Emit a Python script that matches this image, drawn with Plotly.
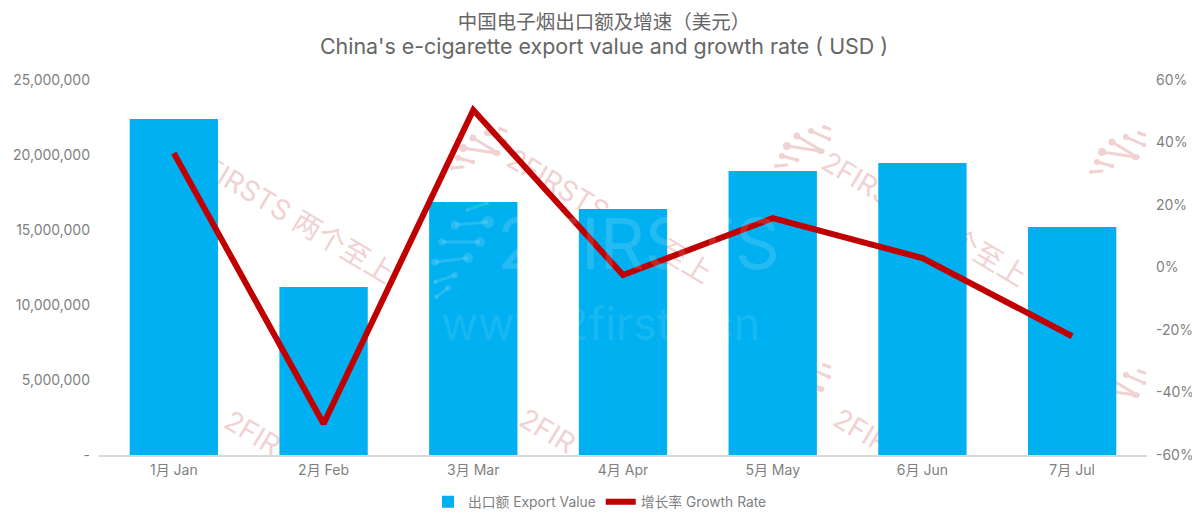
import plotly.graph_objects as go

categories = ["1月 Jan", "2月 Feb", "3月 Mar", "4月 Apr", "5月 May", "6月 Jun", "7月 Jul"]
export_value = [22400000, 11200000, 16870000, 16400000, 18930000, 19470000, 15200000]
growth_rate = [36.6, -50.0, 50.4, -2.4, 15.8, 3.0, -22.0]
left_ticks = [0, 5000000, 10000000, 15000000, 20000000, 25000000]
left_labels = ["-", "5,000,000", "10,000,000", "15,000,000", "20,000,000", "25,000,000"]
right_ticks = [-60, -40, -20, 0, 20, 40, 60]
right_labels = ["-60%", "-40%", "-20%", "0%", "20%", "40%", "60%"]
title_cn = "中国电子烟出口额及增速（美元）"
title_en = "China's e-cigarette export value and growth rate ( USD )"
watermark_text = "2FIRSTS 两个至上"
watermark_short = "2FIR"

FONT = "Inter, 'Noto Sans CJK SC', sans-serif"
PAGE = 8            # the page's own margin
L, T, PW, PH = 99, 80, 1048, 375   # plot box in picture pixels
W, H = 1200 - PAGE, 524 - PAGE
PINK = "#F0D2D2"


def px(x):
    return (x - L) / PW


def py(y):
    return (T + PH - y) / PH


shapes = []


def watermark(cx, cy, text, size=28):
    shapes.append(dict(type="rect", xref="paper", yref="paper", layer="below",
                       x0=px(cx - 130), x1=px(cx + 130), y0=py(cy + 20), y1=py(cy - 20),
                       line=dict(width=0), fillcolor="rgba(0,0,0,0)",
                       label=dict(text=text, textangle=31, textposition="middle center",
                                  font=dict(family=FONT, size=size, color=PINK))))


def dot(x, y, r, color, layer):
    shapes.append(dict(type="circle", xref="paper", yref="paper", layer=layer,
                       x0=px(x - r), x1=px(x + r), y0=py(y + r), y1=py(y - r),
                       fillcolor=color, line=dict(width=0)))


def lollipop(x0, y0, x1, y1, r, color, layer):
    shapes.append(dict(type="line", xref="paper", yref="paper", layer=layer,
                       x0=px(x0), y0=py(y0), x1=px(x1), y1=py(y1), line=dict(color=color, width=3)))
    dot(x0, y0, r, color, layer)
    dot(x1, y1, r * 0.75, color, layer)


ICON = [(1102, 152, 1135, 157, 4), (1112, 142, 1137, 157, 3.5), (1097, 162, 1112, 166, 3),
        (1091, 172, 1102, 171, 2), (1126, 137, 1144, 145, 3), (1139, 133, 1145, 135, 2)]
for dx, dy in [(-639, -4), (-315, -6), (0, 0), (-315, 232), (0, 238)]:
    for a, b, c, d, r in ICON:
        lollipop(a + dx, b + dy, c + dx, d + dy, r, PINK, "below")

WHITE = "rgba(255,255,255,0.14)"
for a, b, c, d, r in [(488, 222, 455, 225, 6), (480, 242, 442, 242, 5), (468, 258, 435, 262, 5),
                      (455, 275, 435, 282, 3), (448, 288, 436, 297, 3), (487, 203, 467, 210, 2)]:
    lollipop(a, b, c, d, r, WHITE, "above")

watermark(292, 215, watermark_text)
watermark(610, 215, watermark_text)
watermark(925, 218, watermark_text)
watermark(253, 432, watermark_short)
watermark(548, 430, watermark_short)
watermark(862, 430, watermark_short)
shapes.append(dict(type="line", xref="paper", yref="paper", x0=px(1198.5), x1=px(1198.5),
                   y0=py(524), y1=py(0), line=dict(color="#D0D0D0", width=1)))

fig = go.Figure()
fig.add_bar(x=categories, y=export_value, name="出口额 Export Value",
            marker=dict(color="#00B0F0", line=dict(width=0)), width=0.59, yaxis="y")
fig.add_scatter(x=categories, y=growth_rate, name="增长率 Growth Rate", mode="lines",
                line=dict(color="#C00000", width=6), yaxis="y2")

fig.update_layout(
    width=W, height=H, autosize=False,
    margin=dict(l=L - PAGE, r=W - (L - PAGE) - PW, t=T - PAGE, b=H - (T - PAGE) - PH, autoexpand=False),
    paper_bgcolor="white", plot_bgcolor="rgba(0,0,0,0)",
    font=dict(family=FONT, size=14, color="#7F7F7F"),
    title=dict(text=f"{title_cn}<br><span style='font-size:21.4px'>{title_en}</span>",
               x=0.5, xanchor="center", y=0.96, yanchor="top",
               font=dict(family=FONT, size=19.5, color="#666666")),
    showlegend=True,
    legend=dict(orientation="h", x=px(600), xanchor="center", y=0.013, yref="container", yanchor="bottom",
                font=dict(family=FONT, size=13.8, color="#7F7F7F"), itemwidth=30, tracegroupgap=0),
    xaxis=dict(showgrid=False, showline=True, linecolor="#D9D9D9", linewidth=1.5, ticks="",
               tickfont=dict(size=14, color="#7F7F7F"), range=[-0.5, 6.5], ticklabelstandoff=1),
    yaxis=dict(range=[0, 25000000], tickvals=left_ticks, ticktext=left_labels, showgrid=False,
               zeroline=False, showline=False, tickfont=dict(size=14, color="#7F7F7F"),
               ticklabelstandoff=8, automargin=False),
    yaxis2=dict(range=[-60, 60], tickvals=right_ticks, ticktext=right_labels, overlaying="y", side="right",
                showgrid=False, zeroline=False, showline=False, tickfont=dict(size=14, color="#7F7F7F"),
                ticklabelstandoff=8, automargin=False),
    shapes=shapes,
    annotations=[
        dict(text="2FIRSTS", xref="paper", yref="paper", x=px(638), y=py(243),
             showarrow=False, font=dict(family=FONT, size=70, color="rgba(255,255,255,0.14)")),
        dict(text="www.2firsts.cn", xref="paper", yref="paper", x=px(600), y=py(323),
             showarrow=False, font=dict(family=FONT, size=45, color="rgba(255,255,255,0.1)")),
    ],
)
fig.write_html("out.html")
